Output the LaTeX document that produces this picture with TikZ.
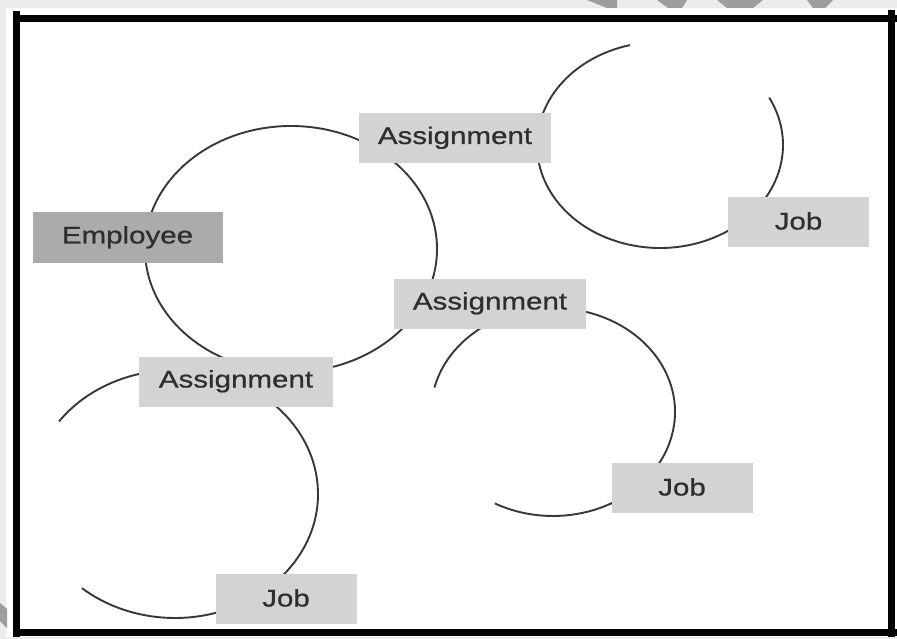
\documentclass[tikz,border=0pt]{standalone}
\usepackage{fontspec}
\setmainfont{Liberation Sans}[FakeStretch=1.23, FakeBold=0.7]
\definecolor{pagegray}{HTML}{ECECEC}
\definecolor{markgray}{HTML}{9D9D9D}
\definecolor{boxgray}{HTML}{D3D3D3}
\definecolor{empgray}{HTML}{ABABAB}
\definecolor{txtgray}{HTML}{2E2E2E}
\definecolor{linegray}{HTML}{383838}
\begin{document}
\begin{tikzpicture}[x=1pt,y=-1pt,
  box/.style={fill=boxgray, text=txtgray, inner sep=0pt, minimum height=50pt,
    font=\fontsize{24}{28}\selectfont, text height=17pt, text depth=5pt},
  jobbox/.style={box, minimum width=141pt, text depth=2pt},
  asgbox/.style={box, minimum width=192pt},
  empbox/.style={box, fill=empgray, minimum width=190pt},
  ring/.style={draw=linegray, line width=1.9pt},
  frame/.style={line width=7.8pt, black}]
\useasboundingbox (0,0) rectangle (897,639);
% page background
\fill[pagegray] (0,0) rectangle (897,639);
\fill[white] (6,8) rectangle (897,637);
% watermark fragments
\fill[markgray] (587,0) -- (617,0) -- (617,8) -- (607,8) -- cycle;
\fill[markgray] (657,0) -- (687,0) -- (682,8) -- (668,8) -- cycle;
\fill[markgray] (717,0) -- (763,0) -- (753,8) -- (727,8) -- cycle;
\fill[markgray] (807,0) -- (833,0) -- (825,8) -- (813,8) -- cycle;
\fill[markgray] (0,603) -- (7,609) -- (7,628) -- (0,621) -- cycle;
% frame
\draw[frame] (13,18.5) -- (897,18.5);
\draw[frame] (13,632.5) -- (897,632.5);
\draw[frame] (16.5,11) -- (16.5,637);
\draw[frame] (891.5,10) -- (891.5,637);
% rings
\draw[ring] (291,249) ellipse [x radius=146, y radius=123];
\draw[ring] (660,145) ++(-27.4:123 and 103)
  arc [start angle=-27.4, end angle=255.9, x radius=123, y radius=103];
\draw[ring] (553,412) ++(193.6:122 and 104)
  arc [start angle=193.6, end angle=478.5, x radius=122, y radius=104];
\draw[ring] (175,494) ++(215.8:143 and 124)
  arc [start angle=215.8, end angle=490.6, x radius=143, y radius=124];
% boxes
\node[empbox] (emp) at (127.5,237.5) {Employee};
\node[asgbox] (asg1) at (455,138) {Assignment};
\node[asgbox] (asg2) at (490,303.5) {Assignment};
\node[asgbox, minimum width=194pt] (asg3) at (236,381.5) {Assignment};
\node[jobbox] (job1) at (798.5,222) {Job};
\node[jobbox] (job2) at (682,488) {Job};
\node[jobbox] (job3) at (286,599) {Job};
\end{tikzpicture}
\end{document}
